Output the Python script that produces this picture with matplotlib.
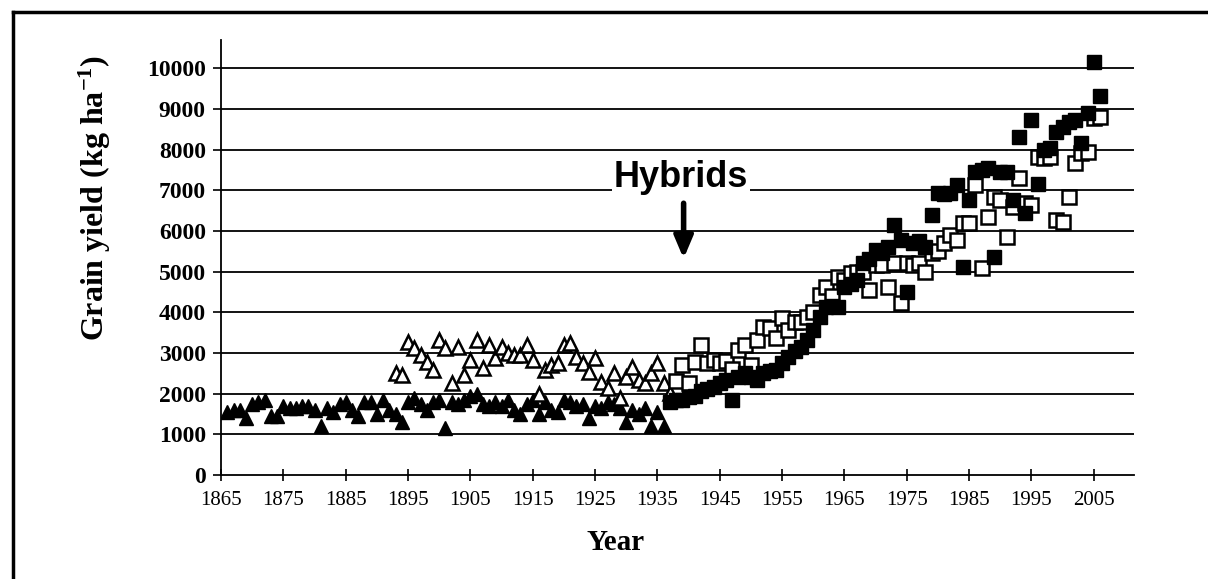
import matplotlib
matplotlib.use("Agg")
import matplotlib.pyplot as plt
from matplotlib.lines import Line2D

# Open-pollinated varieties (filled triangles)
opv_years = list(range(1866, 1937))
opv_yield = [1550, 1600, 1600, 1400, 1750, 1800, 1850, 1450, 1450, 1700,
             1650, 1650, 1700, 1700, 1600, 1200, 1650, 1550, 1750, 1800,
             1600, 1450, 1800, 1800, 1500, 1850, 1600, 1500, 1300, 1800,
             1900, 1750, 1600, 1800, 1850, 1150, 1800, 1750, 1850, 1950,
             2000, 1750, 1700, 1800, 1700, 1850, 1600, 1500, 1750, 1850,
             1500, 1800, 1600, 1550, 1850, 1800, 1700, 1750, 1400, 1700,
             1650, 1800, 1750, 1650, 1300, 1600, 1500, 1650, 1200, 1550,
             1200]

# Open-pollinated varieties, second series (hollow triangles)
opv2_years = [1893, 1894, 1895, 1896, 1897, 1898, 1899, 1900, 1901, 1902,
              1903, 1904, 1905, 1906, 1907, 1908, 1909, 1910, 1911, 1912,
              1913, 1914, 1915, 1916, 1917, 1918, 1919, 1920, 1921, 1922,
              1923, 1924, 1925, 1926, 1927, 1928, 1929, 1930, 1931, 1932,
              1933, 1934, 1935, 1936, 1937]
opv2_yield = [2500, 2450, 3270, 3120, 2950, 2780, 2580, 3320, 3120, 2260,
              3150, 2450, 2820, 3320, 2630, 3200, 2870, 3150, 3000, 2950,
              2950, 3200, 2820, 2000, 2580, 2700, 2750, 3200, 3240, 2900,
              2750, 2530, 2870, 2290, 2140, 2500, 1890, 2410, 2650, 2330,
              2260, 2500, 2750, 2260, 2010]

# Hybrids (filled squares)
hyb_years = list(range(1937, 2007))
hyb_yield = [1800, 1850, 1850, 1920, 1950, 2050, 2100, 2160, 2250, 2330,
             1840, 2410, 2500, 2400, 2330, 2500, 2550, 2580, 2750, 2900,
             3050, 3150, 3320, 3560, 3890, 4130, 4150, 4130, 4620, 4700,
             4790, 5200, 5300, 5530, 5450, 5600, 6140, 5770, 4500, 5700,
             5750, 5600, 6390, 6930, 6900, 6930, 7130, 5110, 6760, 7450,
             7500, 7540, 5360, 7450, 7450, 6760, 8300, 6440, 8720, 7150,
             7990, 8030, 8430, 8550, 8670, 8720, 8160, 8900, 10150, 9330]

# Hybrids, second series (hollow squares)
hyb2_years = list(range(1938, 2007))
hyb2_yield = [2300, 2700, 2260, 2780, 3200, 2750, 2820, 2750, 2800, 2600,
              3070, 3200, 2700, 3320, 3640, 3610, 3370, 3860, 3560, 3750,
              3760, 3890, 4000, 4420, 4620, 4400, 4870, 4800, 4960, 5000,
              4990, 4550, 5160, 5160, 4620, 5200, 4220, 5200, 5160, 5200,
              4990, 5450, 5500, 5700, 5900, 5770, 6190, 6190, 7130, 5100,
              6340, 6830, 6760, 5850, 6590, 7300, 6700, 6650, 7820, 7800,
              7820, 6270, 6220, 6830, 7660, 7910, 7940, 8770, 8800]

yticks = list(range(0, 10001, 1000))
xticks = list(range(1865, 2006, 10))

plt.rcParams["mathtext.fontset"] = "custom"
plt.rcParams["mathtext.rm"] = "Liberation Serif:bold"
plt.rcParams["mathtext.bf"] = "Liberation Serif:bold"
plt.rcParams["mathtext.default"] = "rm"

fig = plt.figure(figsize=(12.08, 5.79), dpi=100)
ax = fig.add_axes([0.183, 0.180, 0.756, 0.751])

for y in yticks[1:]:
    ax.axhline(y, color="black", lw=1.3, zorder=1)

ax.plot(opv_years, opv_yield, ls="none", marker="^", ms=10.5,
        mfc="black", mec="black", zorder=3)
ax.plot(opv2_years, opv2_yield, ls="none", marker="^", ms=10.5,
        mfc="white", mec="black", mew=1.8, zorder=3)
ax.plot(hyb2_years, hyb2_yield, ls="none", marker="s", ms=10.5,
        mfc="white", mec="black", mew=1.8, zorder=3)
ax.plot(hyb_years, hyb_yield, ls="none", marker="s", ms=10.5,
        mfc="black", mec="black", zorder=4)

ax.set_xlim(1865, 2011.5)
ax.set_ylim(0, 10700)
ax.set_xticks(xticks)
ax.set_yticks(yticks)
ax.set_xticklabels([str(x) for x in xticks], family="Liberation Serif", fontsize=15)
ax.set_yticklabels([str(y) for y in yticks], family="Liberation Serif",
                   fontsize=17, fontweight="bold")
ax.tick_params(axis="y", direction="out", length=6, width=1.2, pad=5)
ax.tick_params(axis="x", direction="inout", length=8, width=1.2, pad=8)

for side in ["top", "right"]:
    ax.spines[side].set_visible(False)
ax.spines["left"].set_linewidth(1.3)
ax.spines["bottom"].set_linewidth(1.3)

ax.set_ylabel("Grain yield (kg ha$^{-1}$)", family="Liberation Serif",
              fontsize=23, fontweight="bold")
ax.yaxis.set_label_coords(-0.118, 0.637)
ax.set_xlabel("Year", family="Liberation Serif", fontsize=21,
              fontweight="bold")
ax.xaxis.set_label_coords(0.432, -0.125)

ax.text(1938.8, 7080, "Hybrids", family="Liberation Sans", fontsize=26,
        fontweight="bold", ha="center", va="baseline", zorder=5,
        bbox=dict(facecolor="white", edgecolor="none", pad=1))
ax.annotate("", xy=(1939.2, 5250), xytext=(1939.2, 6750),
            arrowprops=dict(arrowstyle="-|>,head_width=0.55,head_length=1.3",
                            color="black", lw=4), zorder=5)

# outer frame of the scanned figure
fig.add_artist(Line2D([0.011, 1.0], [0.979, 0.979], color="black", lw=2.5))
fig.add_artist(Line2D([0.011, 0.011], [0.0, 0.979], color="black", lw=2.5))

fig.savefig("out.png", dpi=100)
plt.close(fig)
